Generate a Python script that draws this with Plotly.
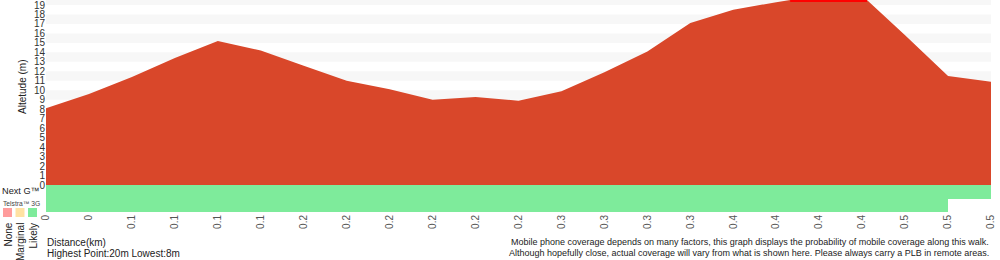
import plotly.graph_objects as go

# ---- data ----
dist_labels = ["0", "0", "0.1", "0.1", "0.1", "0.1", "0.2", "0.2", "0.2", "0.2", "0.2", "0.2",
               "0.3", "0.3", "0.3", "0.3", "0.4", "0.4", "0.4", "0.4", "0.5", "0.5", "0.5"]
elevation = [8.1, 9.6, 11.4, 13.4, 15.2, 14.2, 12.6, 11.0, 10.1, 9.0, 9.3, 8.9,
             9.9, 11.9, 14.1, 17.1, 18.5, 19.3, 20.0, 20.0, 15.8, 11.5, 10.9]
# coverage per segment: 2 = Likely, 1 = Marginal, 0 = None, None = no data
nextg_cov = [2] * 22
g3_cov = [2] * 21 + [None]
y_ticks = list(range(0, 20))
legend_labels = ["None", "Marginal", "Likely"]
legend_colors = ["#ff9c9c", "#ffe2a3", "#7eeb9b"]

W, H = 1000, 260
def px(x): return x / W
def py(y): return 1 - y / H

FILL = "#d9472a"
FONT = "Liberation Sans, Arial, sans-serif"

n = len(elevation)
xs = list(range(n))
y_top = 19 + 5 / (180 / 19)  # top of the plot area

fig = go.Figure()

# altitude area
fig.add_trace(go.Scatter(x=xs, y=elevation, mode="lines", fill="tozeroy",
                         fillcolor=FILL, line=dict(width=0, color=FILL),
                         hoverinfo="skip", xaxis="x", yaxis="y"))

# red highlight where the profile runs above the frame
seg_x = []
for i in range(n - 1):
    a, b = elevation[i], elevation[i + 1]
    if a > y_top or b > y_top:
        x0 = i if a > y_top else i + (y_top - a) / (b - a)
        x1 = i + 1 if b > y_top else i + (y_top - a) / (b - a)
        seg_x += [x0, x1]
if seg_x:
    fig.add_trace(go.Scatter(x=[min(seg_x), max(seg_x)], y=[y_top, y_top], mode="lines",
                             line=dict(color="#ff0000", width=4), hoverinfo="skip",
                             xaxis="x", yaxis="y"))

# coverage band
seg_centers = [i + 0.5 for i in range(n - 1)]
fig.add_trace(go.Heatmap(x=seg_centers, y=[0.5, 1.5], z=[g3_cov, nextg_cov],
                         zmin=0, zmax=2, showscale=False, hoverinfo="skip",
                         colorscale=[[0, legend_colors[0]], [0.33, legend_colors[0]],
                                     [0.34, legend_colors[1]], [0.66, legend_colors[1]],
                                     [0.67, legend_colors[2]], [1, legend_colors[2]]],
                         xaxis="x2", yaxis="y2"))

shapes = []
# alternating grid bands
for k in range(1, 20, 2):
    shapes.append(dict(type="rect", xref="x domain", yref="y", x0=0, x1=1, y0=k, y1=k + 1,
                       fillcolor="#f7f7f7", line=dict(width=0), layer="below"))
# legend swatches
for i, c in enumerate(legend_colors):
    x0 = 3 + i * 12.5
    shapes.append(dict(type="rect", xref="paper", yref="paper", x0=px(x0), x1=px(x0 + 9),
                       y0=py(217), y1=py(208), fillcolor=c, line=dict(width=0)))

annotations = []
def txt(text, x, y, size=10, xanchor="left", yanchor="middle", angle=0, color="#222"):
    annotations.append(dict(text=text, x=px(x), y=py(y), xref="paper", yref="paper",
                            showarrow=False, xanchor=xanchor, yanchor=yanchor, borderpad=0,
                            textangle=angle, font=dict(size=size, color=color, family=FONT)))

txt("Altetude (m)", 23, 87, size=10, xanchor="center", angle=-90)
txt("Next G™", 1, 191, size=9.2, xanchor="left")
txt("Telstra™ 3G", 2, 203, size=6.7, xanchor="left", color="#444")
for i, lab in enumerate(legend_labels):
    annotations.append(dict(text=lab, x=px(7.5 + i * 12.5), y=py(221), xref="paper", yref="paper",
                            showarrow=False, xanchor="center", yanchor="top", textangle=-90,
                            font=dict(size=10, color="#222", family=FONT)))
txt("Distance(km)", 46, 242, size=10)
txt("Highest Point:20m Lowest:8m", 46, 253, size=10)
txt("Mobile phone coverage depends on many factors, this graph displays the probability of mobile coverage along this walk.",
    990, 242, size=9.0, xanchor="right")
txt("Although hopefully close, actual coverage will vary from what is shown here. Please always carry a PLB in remote areas.",
    990, 253, size=9.0, xanchor="right")

fig.update_layout(
    width=W, height=H, margin=dict(l=0, r=0, t=0, b=0, autoexpand=False),
    paper_bgcolor="white", plot_bgcolor="white", showlegend=False,
    font=dict(family=FONT, size=10, color="#333"),
    xaxis=dict(domain=[px(46), px(991)], range=[0, n - 1], anchor="y", automargin=False,
               showticklabels=False, showgrid=False, zeroline=False, showline=False, ticks=""),
    yaxis=dict(domain=[py(185), 1], range=[0, y_top], tickvals=y_ticks, automargin=False,
               ticktext=[str(v) for v in y_ticks], showgrid=False, zeroline=False,
               ticklabeloverflow="allow",
               showline=False, ticks="", tickfont=dict(size=10, color="#333")),
    xaxis2=dict(domain=[px(46), px(991)], range=[0, n - 1], anchor="y2", automargin=False,
                tickvals=xs, ticktext=dist_labels, tickangle=-90,
                tickfont=dict(size=10, color="#555"), showgrid=False, zeroline=False,
                showline=False, ticks=""),
    yaxis2=dict(domain=[py(212), py(185)], range=[0, 2], showticklabels=False, automargin=False,
                showgrid=False, zeroline=False, showline=False, ticks=""),
    shapes=shapes, annotations=annotations,
)

fig.write_html("out.html")
